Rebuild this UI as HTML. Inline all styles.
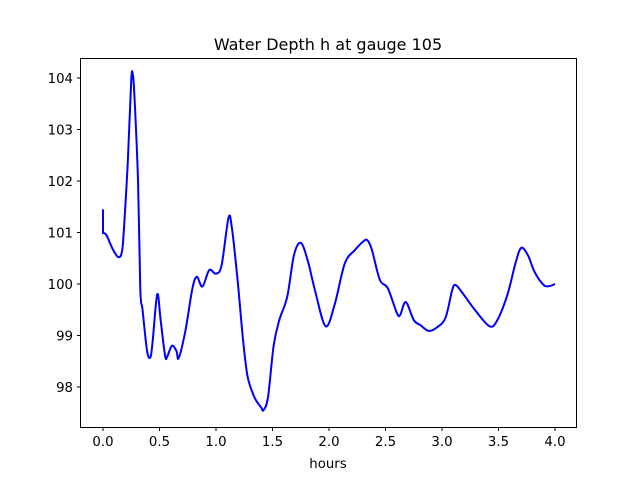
<!DOCTYPE html>
<html><head><meta charset="utf-8"><style>
body{margin:0;background:#fff}
svg text{font-family:"DejaVu Sans","Liberation Sans",sans-serif;fill:#000}
</style></head><body>
<svg id="chart" width="640" height="480">
<rect width="640" height="480" fill="#fff"/>
<text x="328" y="50" font-size="16" text-anchor="middle">Water Depth h at gauge 105</text>
<text x="328" y="468" font-size="13.3" text-anchor="middle">hours</text>
<g id="xt"></g>
<g id="yt"></g>
<path id="ln" fill="none" stroke="#0000ff" stroke-width="2"/>
<rect x="80.5" y="58.5" width="496" height="369" fill="none" stroke="#000" stroke-width="1"/>
</svg>
<script>
const hours=[0,0,0.03,0.09,0.14,0.17,0.19,0.22,0.25,0.265,0.28,0.31,0.33,0.35,0.39,0.42,0.44,0.48,0.51,0.55,0.57,0.61,0.65,0.67,0.73,0.79,0.83,0.88,0.94,1.0,1.05,1.11,1.14,1.19,1.24,1.28,1.34,1.40,1.42,1.46,1.51,1.56,1.63,1.69,1.75,1.81,1.88,1.97,2.05,2.14,2.23,2.30,2.34,2.38,2.45,2.52,2.60,2.63,2.68,2.75,2.81,2.88,2.95,3.03,3.09,3.12,3.18,3.29,3.42,3.49,3.58,3.65,3.70,3.76,3.82,3.90,3.95,4.0];
const depth=[101.45,100.99,100.95,100.66,100.52,100.66,101.24,102.4,103.96,104.05,103.57,102.0,99.9,99.5,98.7,98.58,98.9,99.8,99.3,98.6,98.6,98.8,98.7,98.56,99.1,99.9,100.14,99.95,100.27,100.2,100.37,101.28,101.1,100.1,98.9,98.2,97.8,97.6,97.55,97.8,98.8,99.3,99.75,100.56,100.8,100.47,99.84,99.18,99.6,100.4,100.66,100.82,100.85,100.66,100.08,99.92,99.44,99.4,99.65,99.3,99.2,99.09,99.15,99.34,99.88,99.98,99.83,99.5,99.18,99.3,99.8,100.4,100.7,100.56,100.23,99.98,99.96,100.0];
const xTicks=[0,0.5,1,1.5,2,2.5,3,3.5,4];
const yTicks=[98,99,100,101,102,103,104];
const xs=v=>103+v*113, ys=v=>78+(104-v)*51.5;
const NS="http://www.w3.org/2000/svg";
const xt=document.getElementById('xt'),yt=document.getElementById('yt');
xTicks.forEach(t=>{
 const l=document.createElementNS(NS,'line');
 
 
 l.setAttribute('x1',xs(t));l.setAttribute('x2',xs(t));l.setAttribute('y1',427.5);l.setAttribute('y2',431);l.setAttribute('stroke','#000');
 xt.appendChild(l);
 const s=document.createElementNS(NS,'text');
 
 
 s.setAttribute('x',xs(t));s.setAttribute('y',446);s.setAttribute('font-size','13.3');s.setAttribute('text-anchor','middle');
 s.textContent=t.toFixed(1);xt.appendChild(s);
});
yTicks.forEach(t=>{
 const l=document.createElementNS(NS,'line');
 
 
 l.setAttribute('x1',77);l.setAttribute('x2',80.5);l.setAttribute('y1',ys(t));l.setAttribute('y2',ys(t));l.setAttribute('stroke','#000');
 yt.appendChild(l);
 const s=document.createElementNS(NS,'text');
 
 
 s.setAttribute('x',73);s.setAttribute('y',ys(t)+5);s.setAttribute('font-size','13.3');s.setAttribute('text-anchor','end');
 s.textContent=t;yt.appendChild(s);
});
const P=hours.map((h,i)=>[xs(h),ys(depth[i])]);
let d='M'+P[0][0]+','+P[0][1]+' L'+P[1][0]+','+P[1][1];
for(let i=1;i<P.length-1;i++){
 const p0=P[Math.max(i-1,1)],p1=P[i],p2=P[i+1],p3=P[Math.min(i+2,P.length-1)];
 const c1=[p1[0]+(p2[0]-p0[0])/6,p1[1]+(p2[1]-p0[1])/6],c2=[p2[0]-(p3[0]-p1[0])/6,p2[1]-(p3[1]-p1[1])/6];
 d+=` C${c1[0]},${c1[1]} ${c2[0]},${c2[1]} ${p2[0]},${p2[1]}`;
}
document.getElementById('ln').setAttribute('d',d);
</script>
</body></html>
